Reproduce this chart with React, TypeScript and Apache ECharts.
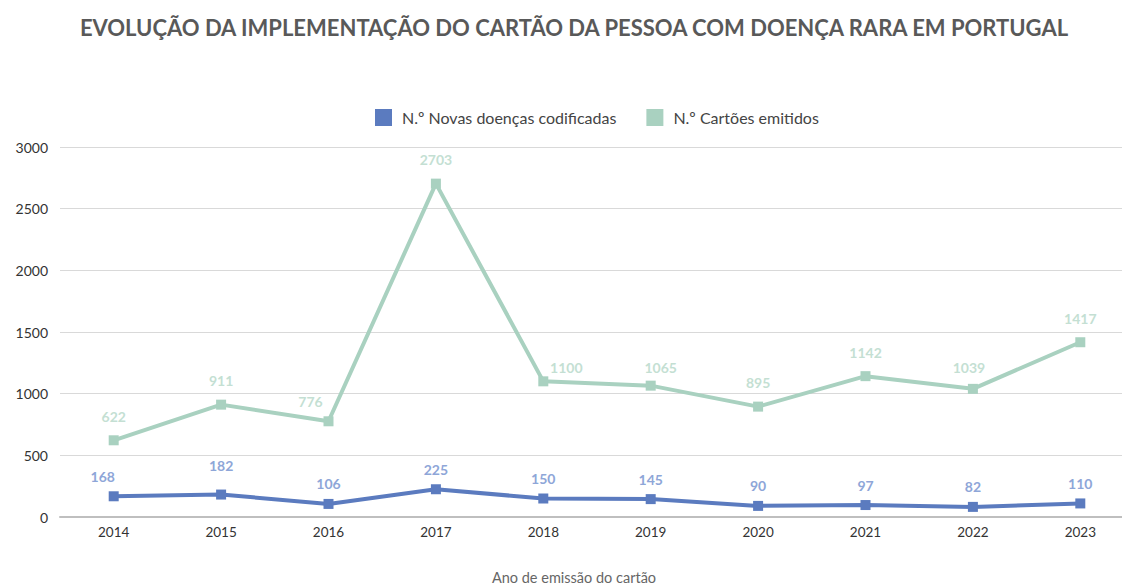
import React, { useEffect, useRef } from "react";
import * as echarts from "echarts";

const years = ["2014", "2015", "2016", "2017", "2018", "2019", "2020", "2021", "2022", "2023"];
const novasDoencas = [168, 182, 106, 225, 150, 145, 90, 97, 82, 110];
const cartoesEmitidos = [622, 911, 776, 2703, 1100, 1065, 895, 1142, 1039, 1417];
const seriesNames = ["N.º Novas doenças codificadas", "N.º Cartões emitidos"];

const FONT = "Lato, 'Open Sans', sans-serif";

// label nudges ([dx, dy] in px) by point index, to keep labels off the lines
const novasLabelShift: Record<number, number[]> = { 0: [-11, 0], 1: [0, -9] };
const cartoesLabelShift: Record<number, number[]> = {
  2: [-18, 4],
  4: [23, 10],
  5: [10, 6],
  8: [-4, 3],
};

const withShift = (values: number[], shift: Record<number, number[]>) =>
  values.map((v, i) => (shift[i] !== undefined ? { value: v, label: { offset: shift[i] } } : v));

export default function App() {
  const ref = useRef<HTMLDivElement>(null);
  useEffect(() => {
    if (!ref.current) return;
    const chart = echarts.init(ref.current, undefined, { renderer: "svg" });
    chart.setOption({
      animation: false,
      textStyle: { fontFamily: FONT },
      title: {
        text: "EVOLUÇÃO DA IMPLEMENTAÇÃO DO CARTÃO DA PESSOA COM DOENÇA RARA EM PORTUGAL",
        left: 569,
        textAlign: "center",
        top: 11,
        textStyle: { fontFamily: FONT, fontSize: 22, fontWeight: "bold", color: "#595959" },
      },
      legend: {
        top: 104,
        left: 370,
        itemWidth: 17,
        itemHeight: 17,
        itemGap: 30,
        icon: "rect",
        textStyle: { fontFamily: FONT, fontSize: 16, color: "#444", padding: [0, 0, 0, 5] },
        data: seriesNames,
      },
      grid: {
        left: 60,
        top: 147,
        width: 1074,
        bottom: 68,
        containLabel: false,
        outerBoundsMode: "none",
      },
      xAxis: {
        type: "category",
        data: years,
        boundaryGap: true,
        axisLine: { lineStyle: { color: "#bfbfbf", width: 2 } },
        axisTick: { show: false },
        axisLabel: { color: "#333", fontSize: 13.5, margin: 8, fontFamily: FONT },
        name: "Ano de emissão do cartão",
        nameLocation: "middle",
        nameGap: 53,
        nameTextStyle: { color: "#666", fontSize: 14.5, fontFamily: FONT, padding: [0, 46, 0, 0] },
      },
      yAxis: {
        type: "value",
        min: 0,
        max: 3000,
        interval: 500,
        axisLine: { show: false },
        axisTick: { show: false },
        axisLabel: {
          color: "#333",
          fontSize: 14,
          margin: 12,
          fontFamily: FONT,
          formatter: (v: number) => String(v),
        },
        splitLine: { lineStyle: { color: "#d9d9d9", width: 1 } },
      },
      series: [
        {
          name: seriesNames[0],
          type: "line",
          data: withShift(novasDoencas, novasLabelShift),
          color: "#5b7bbf",
          lineStyle: { width: 4, color: "#5b7bbf" },
          symbol: "rect",
          symbolSize: 10,
          itemStyle: { color: "#5b7bbf" },
          label: {
            show: true,
            position: "top",
            distance: 8,
            color: "#8ea6d8",
            fontWeight: "bold",
            fontSize: 14,
            fontFamily: FONT,
          },
        },
        {
          name: seriesNames[1],
          type: "line",
          data: withShift(cartoesEmitidos, cartoesLabelShift),
          color: "#a9d1c0",
          lineStyle: { width: 4, color: "#a9d1c0" },
          symbol: "rect",
          symbolSize: 10,
          itemStyle: { color: "#a9d1c0" },
          label: {
            show: true,
            position: "top",
            distance: 12,
            color: "#c4dfd3",
            fontWeight: "bold",
            fontSize: 14,
            fontFamily: FONT,
          },
        },
      ],
    });
    return () => chart.dispose();
  }, []);
  return (
    <div
      ref={ref}
      style={{ position: "fixed", left: 0, top: 0, width: 1122, height: 585, background: "#fff" }}
    />
  );
}
